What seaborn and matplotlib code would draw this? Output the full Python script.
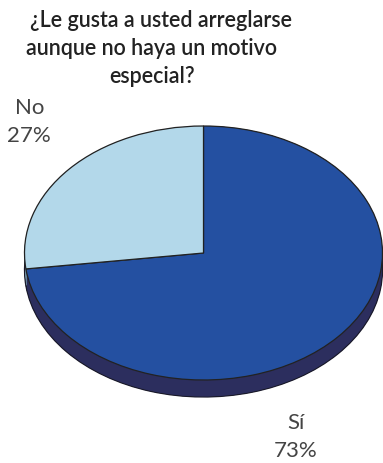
import numpy as np
import matplotlib
matplotlib.use("Agg")
import matplotlib.pyplot as plt
import seaborn as sns

sns.set_theme(style="white")
plt.rcParams['font.family'] = ['Lato', 'DejaVu Sans']

# Survey answers
categories = ["Sí", "No"]
values = [73, 27]
percent_labels = ["73%", "27%"]
title_lines = ["¿Le gusta a usted arreglarse", "aunque no haya un motivo", "especial?"]

top_colors = ["#2450a1", "#b3d8ea"]
side_colors = ["#2c2e5e", "#6f8fa3"]

W, H = 383, 463
fig = plt.figure(figsize=(W / 100, H / 100), dpi=100)
ax = fig.add_axes([0, 0, 1, 1])

# pie ellipse geometry in pixels: centre, semi-axes and thickness
cx, cy = 203.5, 253.0
rx, ry = 179.0, 127.0
depth = 17.0 / ry

# "Sí" runs counterclockwise from just below 9 o'clock round to 12 o'clock
start = 90 + values[1] / sum(values) * 360

# thickness of the disc: stacked copies of the pie, lowest first
for off in np.linspace(depth, 0, 24):
    ax.pie(values, colors=side_colors, startangle=start, center=(0, -off),
           radius=1.0, wedgeprops=dict(linewidth=0))
ax.pie(values, colors=side_colors, startangle=start, center=(0, -depth),
       radius=1.0, wedgeprops=dict(linewidth=0.9, edgecolor="#1a1a2a"))
for off in np.linspace(depth, 0.01, 24):
    ax.pie(values, colors=side_colors, startangle=start, center=(0, -off),
           radius=0.995, wedgeprops=dict(linewidth=0))

# top face
ax.pie(values, colors=top_colors, startangle=start, center=(0, 0), radius=1.0,
       wedgeprops=dict(linewidth=0.9, edgecolor="#222222"))

ax.set_aspect("auto")
ax.set_xlim(-cx / rx, (W - cx) / rx)
ax.set_ylim(-(H - cy) / ry, cy / ry)
ax.axis("off")

# title, one line at a time
for line, x, base in zip(title_lines, [161, 151, 152], [27, 55, 83]):
    fig.text(x / W, 1 - base / H, line, ha="center", va="baseline",
             fontsize=15.5, fontweight="semibold", color="#222222")

label_kw = dict(ha="center", va="baseline", fontsize=16, fontweight="normal",
                color="#444444")
fig.text(30 / W, 1 - 114 / H, categories[1], **label_kw)
fig.text(29 / W, 1 - 142 / H, percent_labels[1], **label_kw)
fig.text(296 / W, 1 - 429 / H, categories[0], **label_kw)
fig.text(296 / W, 1 - 457 / H, percent_labels[0], **label_kw)

fig.savefig("out.png", dpi=100)
